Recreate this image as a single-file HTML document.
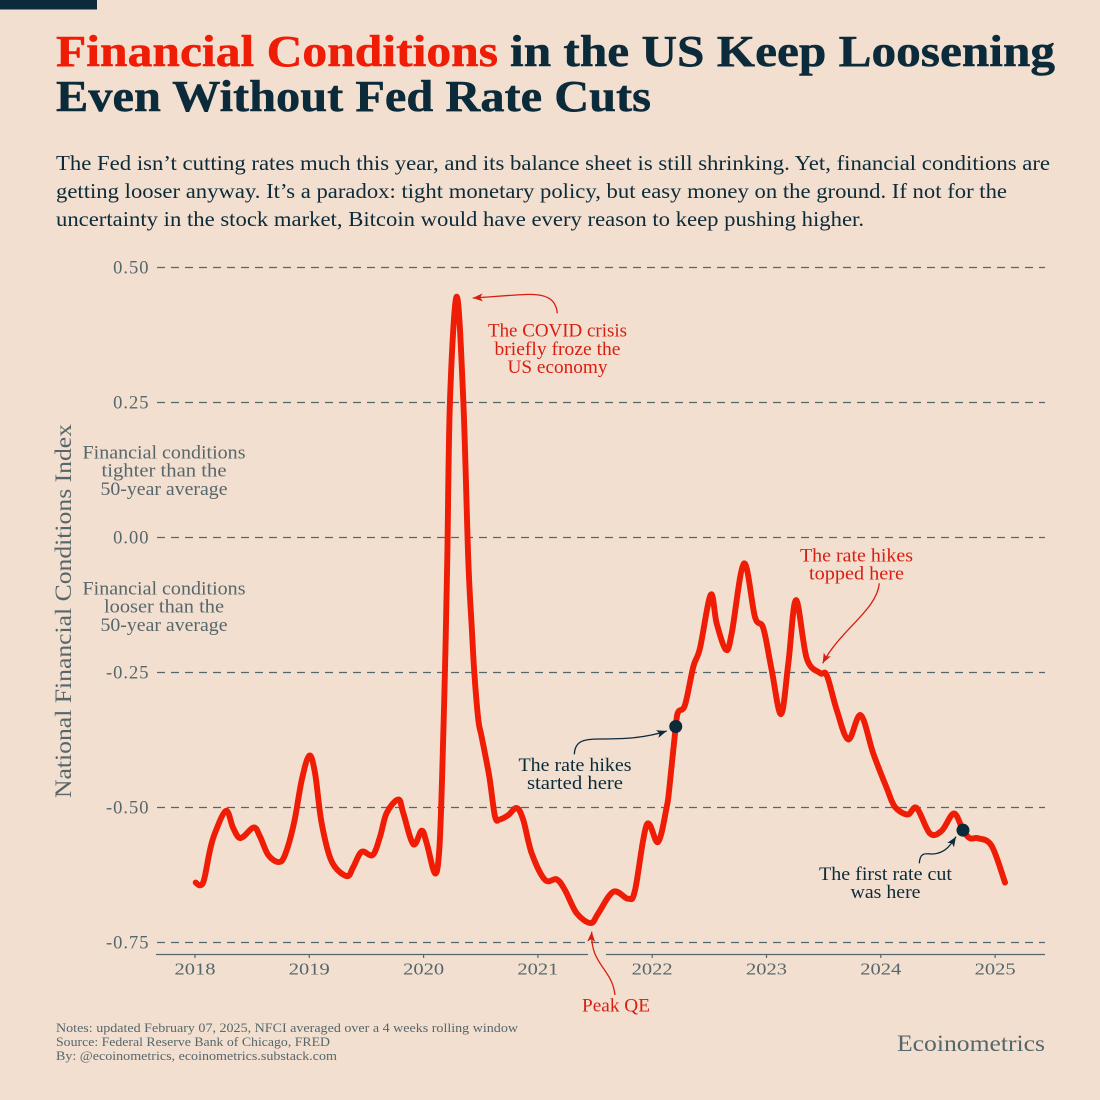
<!DOCTYPE html>
<html lang="en">
<head>
<meta charset="utf-8">
<title>Financial Conditions in the US Keep Loosening</title>
<style>
  html, body { margin: 0; padding: 0; background: #f2dfcf; }
  svg { display: block; }
  text { font-family: "Liberation Serif", serif; }
  .sub { font-size: 21px; fill: #0b2a3a; }
  .title { font-size: 44px; font-weight: bold; fill: #0b2a3a; stroke: #0b2a3a; stroke-width: 0.5px; }
  .side { font-size: 18.5px; fill: #56676c; text-anchor: middle; }
  .red { font-size: 18.5px; fill: #d81e10; text-anchor: middle; }
  .navy { font-size: 18.5px; fill: #0b2a3a; text-anchor: middle; }
  .foot { font-size: 12.8px; fill: #56676c; }
</style>
</head>
<body>
<svg id="chart" xmlns="http://www.w3.org/2000/svg" width="1100" height="1100" viewBox="0 0 1100 1100">
  <defs>
    <marker id="arrow-red" markerWidth="12" markerHeight="10" refX="10" refY="4" orient="auto" markerUnits="userSpaceOnUse"><path d="M0,0 L10,4 L0,8 L2.5,4 Z" fill="#d81e10"/></marker>
    <marker id="arrow-navy" markerWidth="12" markerHeight="10" refX="10" refY="4" orient="auto" markerUnits="userSpaceOnUse"><path d="M0,0 L10,4 L0,8 L2.5,4 Z" fill="#0b2a3a"/></marker>
  </defs>
  <rect width="1100" height="1100" fill="#f2dfcf"/>
  <rect x="0" y="0" width="97" height="9.5" fill="#0b2a3a"/>

  <text class="title" x="56" y="66" textLength="442" lengthAdjust="spacingAndGlyphs" style="fill:#ef1c06;stroke:#ef1c06">Financial Conditions</text>
  <text class="title" x="510" y="66" textLength="545" lengthAdjust="spacingAndGlyphs">in the US Keep Loosening</text>
  <text class="title" x="56" y="111" textLength="595" lengthAdjust="spacingAndGlyphs">Even Without Fed Rate Cuts</text>

  <text class="sub" x="56" y="170" textLength="994" lengthAdjust="spacingAndGlyphs">The Fed isn’t cutting rates much this year, and its balance sheet is still shrinking. Yet, financial conditions are</text>
  <text class="sub" x="56" y="198" textLength="951" lengthAdjust="spacingAndGlyphs">getting looser anyway. It’s a paradox: tight monetary policy, but easy money on the ground. If not for the</text>
  <text class="sub" x="56" y="226" textLength="808" lengthAdjust="spacingAndGlyphs">uncertainty in the stock market, Bitcoin would have every reason to keep pushing higher.</text>

  <g id="grid"></g>
  <g id="y-ticks"></g>
  <line x1="156" y1="954.5" x2="1045" y2="954.5" stroke="#56676c" stroke-width="1.3"/>
  <g id="x-ticks"></g>

  <text transform="translate(71,611) rotate(-90)" text-anchor="middle" font-size="23" fill="#56676c" textLength="374" lengthAdjust="spacingAndGlyphs">National Financial Conditions Index</text>

  <g>
    <text class="side" x="164" y="458.5" textLength="163" lengthAdjust="spacingAndGlyphs">Financial conditions</text>
    <text class="side" x="164" y="476.5" textLength="125" lengthAdjust="spacingAndGlyphs">tighter than the</text>
    <text class="side" x="164" y="495" textLength="127" lengthAdjust="spacingAndGlyphs">50-year average</text>
  </g>
  <g>
    <text class="side" x="164" y="594.5" textLength="163" lengthAdjust="spacingAndGlyphs">Financial conditions</text>
    <text class="side" x="164" y="612.5" textLength="120" lengthAdjust="spacingAndGlyphs">looser than the</text>
    <text class="side" x="164" y="631" textLength="127" lengthAdjust="spacingAndGlyphs">50-year average</text>
  </g>

  <path id="nfci-line" fill="none" stroke="#ef1c06" stroke-width="5.9" stroke-linecap="round" stroke-linejoin="round"/>
  <g id="markers"></g>

  <rect x="588" y="950" width="18" height="8" fill="#f2dfcf"/>
  <path d="M557.3,313.3 C556,298 545,293.5 525,294.5 C505,295.5 490,297 472.7,298" fill="none" stroke="#d81e10" stroke-width="1.3" marker-end="url(#arrow-red)"/>
  <path d="M879.3,583.3 C877,610 840,630 822.7,663.3" fill="none" stroke="#d81e10" stroke-width="1.3" marker-end="url(#arrow-red)"/>
  <path d="M615,995 C612,968 590,965 591.7,931.7" fill="none" stroke="#d81e10" stroke-width="1.3" marker-end="url(#arrow-red)"/>
  <path d="M574.3,754.3 C575,741 583,739 600,739 C625,739 645,738 666.7,731" fill="none" stroke="#0b2a3a" stroke-width="1.3" marker-end="url(#arrow-navy)"/>
  <path d="M919.3,863.3 C920,851 927,854 933,854 C945,853 950,846 956,836.7" fill="none" stroke="#0b2a3a" stroke-width="1.3" marker-end="url(#arrow-navy)"/>

  <g>
    <text class="red" x="557.5" y="336.5" textLength="139" lengthAdjust="spacingAndGlyphs">The COVID crisis</text>
    <text class="red" x="557.5" y="355" textLength="126" lengthAdjust="spacingAndGlyphs">briefly froze the</text>
    <text class="red" x="557.5" y="373" textLength="100" lengthAdjust="spacingAndGlyphs">US economy</text>
  </g>
  <g>
    <text class="red" x="856.5" y="561.5" textLength="113" lengthAdjust="spacingAndGlyphs">The rate hikes</text>
    <text class="red" x="856.5" y="579.5" textLength="95" lengthAdjust="spacingAndGlyphs">topped here</text>
  </g>
  <g>
    <text class="navy" x="575" y="771" textLength="113" lengthAdjust="spacingAndGlyphs">The rate hikes</text>
    <text class="navy" x="575" y="789" textLength="96" lengthAdjust="spacingAndGlyphs">started here</text>
  </g>
  <g>
    <text class="navy" x="885.5" y="880" textLength="133" lengthAdjust="spacingAndGlyphs">The first rate cut</text>
    <text class="navy" x="885.5" y="898" textLength="70" lengthAdjust="spacingAndGlyphs">was here</text>
  </g>
  <text class="red" x="616" y="1011.5" textLength="68" lengthAdjust="spacingAndGlyphs">Peak QE</text>

  <g>
    <text class="foot" x="56" y="1032" textLength="462" lengthAdjust="spacingAndGlyphs">Notes: updated February 07, 2025, NFCI averaged over a 4 weeks rolling window</text>
    <text class="foot" x="56" y="1046" textLength="274" lengthAdjust="spacingAndGlyphs">Source: Federal Reserve Bank of Chicago, FRED</text>
    <text class="foot" x="56" y="1060" textLength="281" lengthAdjust="spacingAndGlyphs">By: @ecoinometrics, ecoinometrics.substack.com</text>
  </g>
  <text x="897" y="1051" font-size="23" fill="#56676c" textLength="148" lengthAdjust="spacingAndGlyphs">Ecoinometrics</text>
</svg>

<script>
var dates = [
  2018.006,2018.044,2018.079,2018.131,2018.175,2018.271,2018.330,2018.379,2018.423,2018.516,
  2018.569,2018.641,2018.729,2018.787,2018.866,2018.934,2019.000,2019.050,2019.108,2019.196,
  2019.327,2019.385,2019.458,2019.555,2019.619,2019.677,2019.779,2019.822,2019.910,2019.983,
  2020.027,2020.100,2020.137,2020.162,2020.187,2020.207,2020.231,2020.290,2020.347,2020.391,
  2020.421,2020.444,2020.479,2020.508,2020.575,2020.625,2020.668,2020.741,2020.815,2020.872,
  2020.946,2021.062,2021.165,2021.237,2021.340,2021.462,2021.528,2021.660,2021.791,2021.850,
  2021.952,2022.051,2022.127,2022.150,2022.206,2022.228,2022.287,2022.360,2022.418,2022.512,
  2022.564,2022.646,2022.696,2022.803,2022.899,2022.972,2023.045,2023.127,2023.191,2023.258,
  2023.352,2023.468,2023.527,2023.614,2023.716,2023.824,2023.934,2024.052,2024.124,2024.235,
  2024.314,2024.430,2024.533,2024.640,2024.719,2024.780,2024.853,2024.970,2025.087
];
var nfciValues = [
  -0.639,-0.644,-0.634,-0.579,-0.547,-0.506,-0.536,-0.555,-0.554,-0.537,
  -0.554,-0.588,-0.601,-0.588,-0.529,-0.449,-0.404,-0.436,-0.529,-0.600,
  -0.627,-0.610,-0.582,-0.588,-0.554,-0.510,-0.485,-0.510,-0.568,-0.543,
  -0.566,-0.622,-0.579,-0.443,-0.245,-0.042,0.255,0.446,0.255,-0.042,
  -0.165,-0.251,-0.338,-0.369,-0.443,-0.517,-0.522,-0.514,-0.501,-0.523,
  -0.585,-0.634,-0.633,-0.653,-0.696,-0.714,-0.696,-0.656,-0.669,-0.653,
  -0.532,-0.564,-0.499,-0.464,-0.350,-0.323,-0.310,-0.239,-0.205,-0.106,
  -0.159,-0.208,-0.177,-0.048,-0.147,-0.168,-0.245,-0.327,-0.233,-0.116,
  -0.224,-0.251,-0.255,-0.319,-0.374,-0.329,-0.400,-0.464,-0.499,-0.513,
  -0.501,-0.548,-0.543,-0.511,-0.542,-0.557,-0.557,-0.571,-0.639
];
var yTickValues = [0.5, 0.25, 0, -0.25, -0.5, -0.75];
var yTickLabels = ["0.50", "0.25", "0.00", "-0.25", "-0.50", "-0.75"];
var xTickYears = [2018, 2019, 2020, 2021, 2022, 2023, 2024, 2025];
var markerDates = [2022.206, 2024.719];
var markerValues = [-0.350, -0.542];

function xScale(t) { return 195 + (t - 2018) * 114.3; }
function yScale(v) { return 537.5 - v * 540; }

var NS = "http://www.w3.org/2000/svg";
function make(tag, attrs, parent) {
  var e = document.createElementNS(NS, tag);
  for (var k in attrs) e.setAttribute(k, attrs[k]);
  parent.appendChild(e);
  return e;
}

var grid = document.getElementById("grid");
var yTicks = document.getElementById("y-ticks");
yTickValues.forEach(function (v, i) {
  var y = yScale(v);
  var line = make("line", { x1: 157, x2: 1045, y1: y, y2: y, stroke: "#56676c", "stroke-width": 1.2, "stroke-dasharray": "8 6" }, grid);
  
  
  var label = make("text", { x: 149.5, y: y + 6, "text-anchor": "end", "font-size": 18.5, "letter-spacing": 1, fill: "#56676c" }, yTicks);
  
  
  label.textContent = yTickLabels[i];
});

var xTicks = document.getElementById("x-ticks");
xTickYears.forEach(function (yr) {
  var x = xScale(yr);
  var tick = make("line", { x1: x, x2: x, y1: 954.5, y2: 958, stroke: "#56676c", "stroke-width": 1.2 }, xTicks);
  
  
  var label = make("text", { x: x, y: 974.5, "text-anchor": "middle", "font-size": 17, fill: "#56676c", textLength: 41, lengthAdjust: "spacingAndGlyphs" }, xTicks);
  
  
  label.textContent = String(yr);
});

function smoothPath(px, py) {
  var d = "M" + px[0].toFixed(2) + "," + py[0].toFixed(2);
  var n = px.length;
  for (var i = 0; i < n - 1; i++) {
    var i0 = Math.max(0, i - 1), i3 = Math.min(n - 1, i + 2);
    var c1x = px[i] + (px[i + 1] - px[i0]) / 6;
    var c1y = py[i] + (py[i + 1] - py[i0]) / 6;
    var c2x = px[i + 1] - (px[i3] - px[i]) / 6;
    var c2y = py[i + 1] - (py[i3] - py[i]) / 6;
    d += " C" + c1x.toFixed(2) + "," + c1y.toFixed(2) + " " + c2x.toFixed(2) + "," + c2y.toFixed(2) + " " + px[i + 1].toFixed(2) + "," + py[i + 1].toFixed(2);
  }
  return d;
}
document.getElementById("nfci-line").setAttribute("d", smoothPath(dates.map(xScale), nfciValues.map(yScale)));

var markers = document.getElementById("markers");
markerDates.forEach(function (t, i) {
  var c = make("circle", { cx: xScale(t), cy: yScale(markerValues[i]), r: 6.5, fill: "#0b2a3a" }, markers);
  
  
});
</script>
</body>
</html>
